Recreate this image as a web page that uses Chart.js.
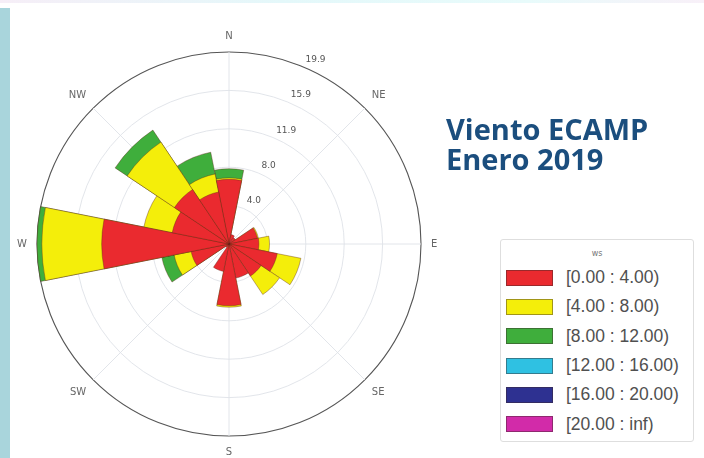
<!DOCTYPE html>
<html lang="es">
<head>
    <meta charset="UTF-8">
    <title>Viento ECAMP</title>
    <style>
        body{
            margin: 0;
            width: 704px;
            height: 458px;
            overflow: hidden;
            background: #fff;
            position: relative;
            font-family: "DejaVu Sans", sans-serif;
        }
        #franja{ position: absolute; left: 0; top: 8px; width: 10px; height: 450px; background: #a9d5dc; }
        #borde{ position: absolute; left: 0; top: 0; width: 704px; height: 3px;
            background: linear-gradient(90deg, #f6eef7, #e4f8fa 40%, #e8fbfb 75%, #f8f0f8); }
        #rosa{ position: absolute; left: -31px; top: 0; }
        #titulo{ position: absolute; left: 446px; top: 114px; font-family: "Open Sans", sans-serif;
            font-weight: 700; font-size: 29px; line-height: 30px; color: #1b4e7e; }
        #leyenda{ position: absolute; left: 500px; top: 239px; width: 194px; height: 203px;
            border: 1px solid #dedede; border-radius: 3px; background: #fff; box-sizing: border-box; }
        #leyenda .tit{ text-align: center; font-size: 8px; color: #777; margin-top: 9px; height: 14px; }
        #leyenda .fila{ display: flex; align-items: center; height: 29.3px; padding-left: 5px; }
        #leyenda .caja{ width: 45px; height: 14px; border: 1px solid rgba(60,40,40,.45); margin-right: 13px; }
        #leyenda .txt{ font-family: "Liberation Sans", Arial, sans-serif; font-size: 17.5px; color: #505050; white-space: nowrap; }
    </style>
</head>
<body>
    <div id="borde"></div>
    <div id="franja"></div>
    <canvas id="rosa" width="520" height="458"></canvas>
    <div id="titulo">Viento ECAMP<br>Enero 2019</div>
    <div id="leyenda"><div class="tit">ws</div></div>

    <script src="https://cdn.jsdelivr.net/npm/chart.js"></script>

    <script>
        // direcciones (16 sectores) y rangos de velocidad
        const sectores = ['N','NNE','NE','ENE','E','ESE','SE','SSE','S','SSW','SW','WSW','W','WNW','NW','NNW']
        const rangos = ['[0.00 : 4.00)', '[4.00 : 8.00)', '[8.00 : 12.00)', '[12.00 : 16.00)', '[16.00 : 20.00)', '[20.00 : inf)']
        const colores = ['#ea2a2f', '#f4ee0a', '#3fae3c', '#2fc1e2', '#2e3191', '#d22ba9']

        // frecuencia (%) por sector para cada rango
        const ws0_4   = [6.7, 1.0, 0.8, 3.0, 3.1, 5.1, 4.0, 3.6, 6.4, 2.9, 0.4, 4.0, 13.2, 6.0, 6.8, 5.5]
        const ws4_8   = [0.15, 0, 0, 0.1, 1.1, 2.5, 2.3, 0, 0.15, 0, 0, 1.8, 6.2, 3.0, 5.9, 1.9]
        const ws8_12  = [0.95, 0, 0, 0, 0, 0, 0, 0, 0, 0, 0, 1.3, 0.5, 0, 1.5, 2.3]
        const ws12_16 = [0, 0, 0, 0, 0, 0, 0, 0, 0, 0, 0, 0, 0, 0, 0, 0]
        const ws16_20 = [0, 0, 0, 0, 0, 0, 0, 0, 0, 0, 0, 0, 0, 0, 0, 0]
        const ws20    = [0, 0, 0, 0, 0, 0, 0, 0, 0, 0, 0, 0, 0, 0, 0, 0]

        // anillos
        const rMax = 19.9
        const rTicks = [0, 3.98, 7.96, 11.94, 15.92, 19.9]
        const rTickLabels = ['', '4.0', '8.0', '11.9', '15.9', '19.9']

        const series = [ws0_4, ws4_8, ws8_12, ws12_16, ws16_20, ws20]

        // apilado: cada rango se dibuja hasta su acumulado, el primero queda encima
        let acum = sectores.map(() => 0)
        const datasets = series.map((vals, k) => {
            acum = acum.map((a, i) => a + vals[i])
            return {
                label: rangos[k],
                data: acum.map((a, i) => vals[i] > 0 ? a : 0),
                backgroundColor: colores[k],
                borderColor: 'rgba(90,35,20,0.55)',
                borderWidth: ctx => ctx.raw > 0 ? 0.7 : 0,
            }
        })

        // 2 etiquetas de escala por sector -> lineas en el centro de cada sector
        const etiquetas = sectores.flatMap((s, j) => ['', j % 2 === 0 ? s : ''])

        const anillos = {
            id: 'anillos',
            afterDatasetsDraw(chart) {
                const s = chart.scales.r
                const c = chart.ctx
                const a = 22.5 * Math.PI / 180
                c.save()
                c.font = '9px "DejaVu Sans"'
                c.fillStyle = '#555'
                c.textAlign = 'left'
                c.textBaseline = 'middle'
                s.ticks.forEach((t, i) => {
                    if (!rTickLabels[i]) return
                    const d = s.getDistanceFromCenterForValue(t.value) + 8
                    c.fillText(rTickLabels[i], s.xCenter + d * Math.sin(a), s.yCenter - d * Math.cos(a))
                })
                c.restore()
            }
        }

        const grafico = new Chart(document.querySelector('#rosa'), {
            type: 'polarArea',
            data: { labels: etiquetas, datasets: datasets },
            options: {
                responsive: false,
                animation: false,
                layout: { padding: { top: 30, bottom: 0, left: 0, right: 0 } },
                plugins: { legend: { display: false }, tooltip: { enabled: false } },
                scales: {
                    r: {
                        min: 0,
                        max: rMax,
                        startAngle: -11.25,
                        afterBuildTicks: s => { s.ticks = rTicks.map(v => ({ value: v })) },
                        ticks: { display: false },
                        grid: {
                            circular: true,
                            color: ctx => ctx.index === rTicks.length - 1 ? '#555' : '#dfe2e8',
                            lineWidth: ctx => ctx.index === rTicks.length - 1 ? 1.1 : 0.9,
                        },
                        angleLines: {
                            display: true,
                            color: '#dfe2e8',
                            lineWidth: ctx => ctx.index % 4 === 1 ? 0.9 : 0,
                        },
                        pointLabels: {
                            display: true,
                            padding: 10,
                            color: '#666',
                            font: { family: 'DejaVu Sans', size: 10 },
                        },
                    }
                }
            },
            plugins: [anillos]
        })

        // leyenda
        const ley = document.querySelector('#leyenda')
        grafico.data.datasets.forEach(d => {
            const fila = document.createElement('div')
            fila.className = 'fila'
            fila.innerHTML = '<div class="caja" style="background:' + d.backgroundColor + '"></div><div class="txt">' + d.label + '</div>'
            ley.appendChild(fila)
        })
    </script>
</body>
</html>
